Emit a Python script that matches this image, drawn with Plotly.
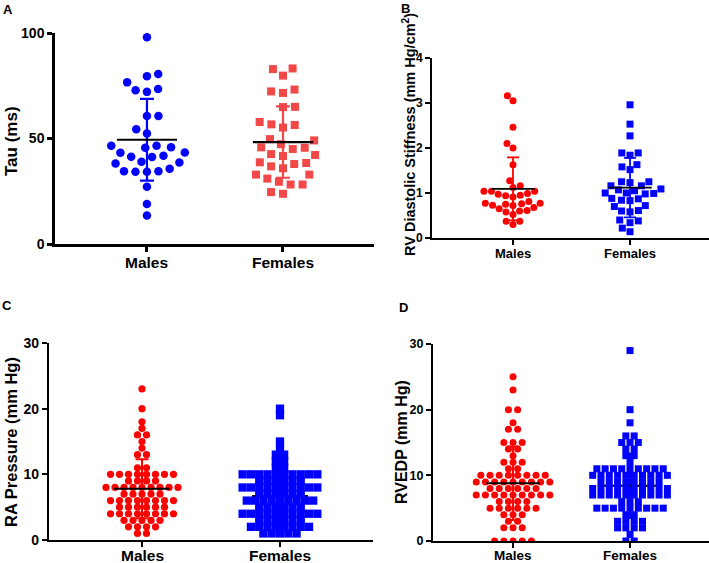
import numpy as np
import plotly.graph_objects as go

W, H = 709, 563
FONT = "Liberation Sans"
BLUE = "#0000ff"
RED = "#ff0000"
RED_A = "#f24848"

# ---------------- data ----------------
CATEGORIES = ["Males", "Females"]

# Panel A: Tau (ms)
TAU_MALES = [98, 80.6, 79.5, 76.6, 73.5, 72.9, 72.1, 60.7, 60.7, 54.4, 52.4, 46.6, 45.6,
             46.6, 45.9, 43.3, 43.4, 41.4, 41.2, 41.8, 38.6, 38.2, 39.0, 35.7, 34.5, 34.2,
             34.2, 34.5, 27.1, 19.0, 13.5]
TAU_FEMALES = [82.9, 83.2, 79.8, 73.2, 71.6, 72.3, 65.0, 64.9, 56.7, 55.2, 56.4, 57.8, 49.7,
               47.3, 45.6, 45.0, 45.8, 49.1, 42.2, 41.7, 42.6, 38.7, 35.9, 37.9, 38.4, 36.8,
               32.9, 31.0, 32.9, 29.5, 28.2, 28.2, 23.8, 24.6]
TAU_MEAN = [49.4, 48.3]
TAU_SD = [19.4, 16.9]

# Panel B: RV diastolic stiffness
STIFF_MALES = [3.16, 3.05, 2.46, 2.10, 2.00, 1.63, 1.27, 1.16, 1.12, 1.04, 0.99, 0.95, 0.91,
               0.94, 0.97, 1.04, 1.04, 0.81, 0.77, 0.75, 0.72, 0.68, 0.60, 0.58, 0.61, 0.65,
               0.73, 0.76, 0.77, 0.52, 0.37, 0.30, 0.37]
STIFF_FEMALES = [2.96, 2.53, 2.27, 1.89, 1.84, 1.89, 1.58, 1.52, 1.63, 1.25, 1.23, 1.25, 1.16,
                 1.07, 1.00, 0.99, 0.98, 1.00, 1.05, 1.09, 1.16, 0.87, 0.83, 0.70, 0.72, 0.84,
                 0.88, 0.60, 0.58, 0.61, 0.40, 0.34, 0.38, 0.14, 0.22]
STIFF_MEAN = [1.09, 1.12]
STIFF_SD = [0.70, 0.66]

# Panel C: RA pressure (integer values with counts)
RA_MALES_VALUES = [1, 2, 3, 4, 5, 6, 7, 8, 9, 10, 11, 13, 14, 15, 16, 17, 18, 20, 23]
RA_MALES_COUNTS = [2, 4, 5, 8, 6, 8, 5, 9, 4, 8, 2, 2, 1, 1, 2, 1, 1, 1, 1]
RA_FEMALES_VALUES = [1, 2, 3, 4, 5, 6, 7, 8, 9, 10, 11, 12, 13, 14, 15, 19, 20]
RA_FEMALES_COUNTS = [5, 8, 6, 10, 6, 9, 6, 10, 6, 10, 2, 2, 2, 1, 1, 1, 1]
RA_MEAN = [7.8, 6.7]
RA_SD = [4.5, 4.1]

# Panel D: RVEDP (integer values with counts)
RVEDP_MALES_VALUES = [0, 2, 3, 4, 5, 6, 7, 8, 9, 10, 11, 12, 13, 14, 15, 17, 18, 20, 23, 25]
RVEDP_MALES_COUNTS = [5, 3, 2, 3, 6, 4, 9, 6, 9, 8, 2, 3, 1, 2, 3, 2, 1, 2, 1, 1]
RVEDP_FEMALES_VALUES = [0, 1, 2, 3, 4, 5, 6, 7, 8, 9, 10, 11, 12, 13, 14, 15, 16, 18, 20, 29]
RVEDP_FEMALES_COUNTS = [2, 1, 4, 4, 2, 9, 3, 10, 10, 8, 10, 9, 1, 2, 2, 3, 2, 1, 1, 1]
RVEDP_MEAN = [8.8, 8.4]
RVEDP_SD = [5.6, 4.9]


def expand(values, counts):
    out = []
    for v, c in zip(values, counts):
        out += [v] * c
    return out


# ---------------- layout geometry (pixels) ----------------
PANELS = {
    "A": dict(x0=55, x1=374, yb=244, yt=33, xr=[-0.676, 1.669], yr=[0, 100], laby=262),
    "B": dict(x0=432, x1=709, yb=238, yt=58, xr=[-0.692, 1.675], yr=[0, 4], laby=253),
    "C": dict(x0=49, x1=373, yb=540, yt=343, xr=[-0.674, 1.674], yr=[0, 30], laby=555),
    "D": dict(x0=433, x1=709, yb=541, yt=344, xr=[-0.684, 1.675], yr=[0, 30], laby=555),
}


def ppu(p):
    px = (p["x1"] - p["x0"]) / (p["xr"][1] - p["xr"][0])
    py = (p["yb"] - p["yt"]) / (p["yr"][1] - p["yr"][0])
    return px, py


def swarm(vals, ppu_x, ppu_y, dx, dy, center_rows=False):
    vals = np.asarray(vals, float)
    order = np.argsort(vals, kind="stable")
    ys = vals * ppu_y
    px_, py_ = [], []
    out = np.zeros(len(vals))
    for i in order:
        y = ys[i]
        cands = [0.0]
        for xj, yj in zip(px_, py_):
            t = (y - yj) / dy
            if abs(t) < 1:
                off = dx * np.sqrt(1 - t * t)
                cands += [xj + off, xj - off]

        def ok(x):
            for xj, yj in zip(px_, py_):
                if ((x - xj) / dx) ** 2 + ((y - yj) / dy) ** 2 < 1 - 1e-6:
                    return False
            return True

        left = sum(1 for xj, yj in zip(px_, py_) if xj < -1e-6 and abs(y - yj) < 2 * dy)
        right = sum(1 for xj, yj in zip(px_, py_) if xj > 1e-6 and abs(y - yj) < 2 * dy)
        pref = -1 if left <= right else 1
        cands.sort(key=lambda c: (round(abs(c), 3), 0 if c * pref >= 0 else 1))
        x = 0.0
        for c in cands:
            if ok(c):
                x = c
                break
        px_.append(x)
        py_.append(y)
        out[i] = x
    if center_rows:
        for v in np.unique(vals):
            m = vals == v
            out[m] -= out[m].mean()
    return out / ppu_x


fig = go.Figure()

SPEC = [
    dict(key="A", ax="", groups=[TAU_MALES, TAU_FEMALES], colors=[BLUE, RED_A],
         symbols=["circle", "square"], sizes=[8.5, 8], sp=[(11.5, 11.5), (12, 12)],
         rows=False, under=[False, False], mean=TAU_MEAN, sd=TAU_SD, mw=43, cap=7, lw=2.2),
    dict(key="B", ax="2", groups=[STIFF_MALES, STIFF_FEMALES], colors=[RED, BLUE],
         symbols=["circle", "square"], sizes=[7, 7], sp=[(7.5, 7.5), (8.5, 8.5)],
         rows=False, under=[False, False], mean=STIFF_MEAN, sd=STIFF_SD, mw=31, cap=6,
         lw=1.8),
    dict(key="C", ax="3",
         groups=[expand(RA_MALES_VALUES, RA_MALES_COUNTS),
                 expand(RA_FEMALES_VALUES, RA_FEMALES_COUNTS)],
         colors=[RED, BLUE], symbols=["circle", "square"], sizes=[7.2, 8.3],
         sp=[(9.0, 6.5), (8.3, 6.5)], rows=True, under=[False, True], mean=RA_MEAN,
         sd=RA_SD, mw=40, cap=6.5, lw=2),
    dict(key="D", ax="4",
         groups=[expand(RVEDP_MALES_VALUES, RVEDP_MALES_COUNTS),
                 expand(RVEDP_FEMALES_VALUES, RVEDP_FEMALES_COUNTS)],
         colors=[RED, BLUE], symbols=["circle", "square"], sizes=[7, 7],
         sp=[(9.2, 6.5), (8.3, 6.5)], rows=True, under=[False, True], mean=RVEDP_MEAN,
         sd=RVEDP_SD, mw=38, cap=6, lw=2),
]


def mean_trace(s, gi, xa, ya):
    return go.Scatter(
        x=[gi], y=[s["mean"][gi]], xaxis=xa, yaxis=ya, mode="markers",
        marker=dict(symbol="line-ew", size=s["mw"], color="black",
                    line=dict(color="black", width=s["lw"])),
        error_y=dict(type="data", array=[s["sd"][gi]], color=s["colors"][gi],
                     thickness=s["lw"], width=s["cap"]),
        showlegend=False, hoverinfo="skip")


for s in SPEC:
    p = PANELS[s["key"]]
    pux, puy = ppu(p)
    xa, ya = "x" + s["ax"], "y" + s["ax"]
    for gi in range(2):
        if s["under"][gi]:
            fig.add_trace(mean_trace(s, gi, xa, ya))
    for gi, vals in enumerate(s["groups"]):
        dx, dy = s["sp"][gi]
        offs = swarm(vals, pux, puy, dx, dy, center_rows=s["rows"])
        fig.add_trace(go.Scatter(
            x=gi + offs, y=vals, xaxis=xa, yaxis=ya, mode="markers",
            marker=dict(symbol=s["symbols"][gi], size=s["sizes"][gi],
                        color=s["colors"][gi], line=dict(width=0)),
            showlegend=False))
    for gi in range(2):
        if not s["under"][gi]:
            fig.add_trace(mean_trace(s, gi, xa, ya))

TICKS = {"A": [0, 50, 100], "B": [0, 1, 2, 3, 4], "C": [0, 10, 20, 30], "D": [0, 10, 20, 30]}
STYLE = {"A": dict(tf=14, cf=15.5, lw=2.5), "B": dict(tf=12, cf=13, lw=2),
         "C": dict(tf=14, cf=15.5, lw=2.2), "D": dict(tf=12.5, cf=13.5, lw=2)}

layout = dict(width=W, height=H, margin=dict(l=0, r=0, t=0, b=0), autosize=False,
              template="none", paper_bgcolor="white", plot_bgcolor="rgba(0,0,0,0)",
              showlegend=False)

ann = []
for key, suf in zip("ABCD", ["", "2", "3", "4"]):
    p = PANELS[key]
    st = STYLE[key]
    xd = [p["x0"] / W, p["x1"] / W]
    yd = [1 - p["yb"] / H, 1 - p["yt"] / H]
    layout["xaxis" + suf] = dict(
        domain=xd, range=p["xr"], anchor="y" + suf, showgrid=False, zeroline=False,
        showline=True, linecolor="black", linewidth=st["lw"], ticks="outside",
        ticklen=5, tickwidth=st["lw"], tickcolor="black", tickvals=[0, 1],
        showticklabels=False, automargin=False)
    layout["yaxis" + suf] = dict(
        domain=yd, range=p["yr"], anchor="x" + suf, showgrid=False, zeroline=False,
        showline=True, linecolor="black", linewidth=st["lw"], ticks="outside",
        ticklen=5, tickwidth=st["lw"], tickcolor="black", tickvals=TICKS[key],
        automargin=False,
        tickfont=dict(family=FONT, size=st["tf"], color="black", weight="bold"))
    for ci, cat in enumerate(CATEGORIES):
        ann.append(dict(text=cat, x=ci, y=1 - p["laby"] / H, xref="x" + suf, yref="paper",
                        showarrow=False, xanchor="center", yanchor="middle",
                        font=dict(family=FONT, size=st["cf"], color="black",
                                  weight="bold")))

for letter, (x, y) in zip("ABCD", [(8, 9), (405, 8), (7, 305), (403, 307)]):
    ann.append(dict(text=letter, x=x / W, y=1 - y / H, xref="paper", yref="paper",
                    showarrow=False, xanchor="center", yanchor="middle",
                    font=dict(family=FONT, size=13, color="black", weight="bold")))

TITLES = [("Tau (ms)", 11, 141, 17),
          ("RV Diastolic Stiffness (mm Hg/cm<sup>2</sup>)", 409, 135, 14.5),
          ("RA Pressure (mm Hg)", 11, 442, 16.5),
          ("RVEDP (mm Hg)", 401, 442, 16)]
for txt, x, y, fs in TITLES:
    ann.append(dict(text=txt, x=x / W, y=1 - y / H, xref="paper", yref="paper",
                    showarrow=False, textangle=-90, xanchor="center", yanchor="middle",
                    font=dict(family=FONT, size=fs, color="black", weight="bold")))
layout["annotations"] = ann

fig.update_layout(**layout)
fig.write_html("out.html", config={"displayModeBar": False},
               post_script="document.body.style.margin='0px';"
                           "document.body.style.overflow='hidden';")
